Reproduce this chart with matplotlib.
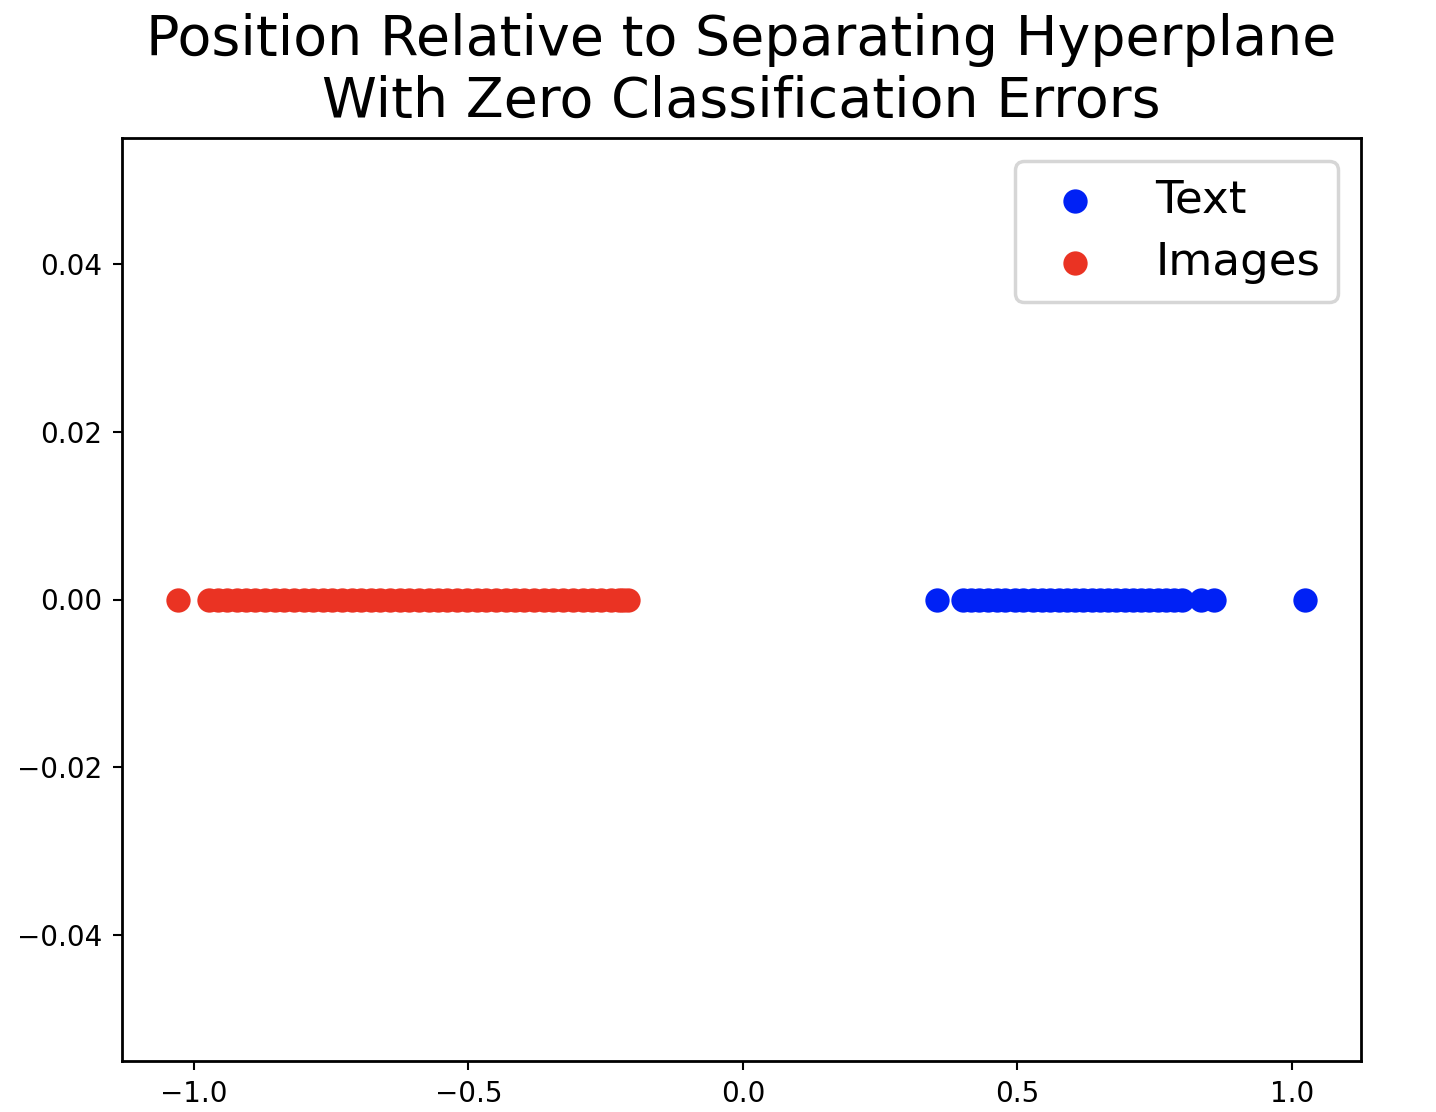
import matplotlib
matplotlib.use('Agg')
import matplotlib.pyplot as plt

# projection onto the separating hyperplane normal
text_pos = [0.353, 0.400, 0.415, 0.430, 0.447, 0.462, 0.478, 0.495, 0.510, 0.528,
            0.545, 0.560, 0.575, 0.590, 0.605, 0.620, 0.635, 0.650, 0.665, 0.680,
            0.695, 0.710, 0.725, 0.740, 0.755, 0.770, 0.785, 0.800, 0.834, 0.858,
            1.023]
image_pos = [-1.028, -0.973, -0.956, -0.940, -0.922, -0.905, -0.888, -0.870, -0.852, -0.835,
             -0.818, -0.800, -0.783, -0.765, -0.748, -0.730, -0.712, -0.695, -0.678, -0.660,
             -0.642, -0.625, -0.608, -0.590, -0.572, -0.555, -0.538, -0.520, -0.502, -0.485,
             -0.468, -0.450, -0.432, -0.415, -0.398, -0.380, -0.362, -0.345, -0.328, -0.310,
             -0.292, -0.275, -0.258, -0.240, -0.225, -0.218, -0.210]
text_y = [0.0] * len(text_pos)
image_y = [0.0] * len(image_pos)

W, H, DPI = 1436, 1112, 250
fig = plt.figure(figsize=(W / DPI, H / DPI), dpi=DPI)
ax = fig.add_axes([122 / W, (H - 1061) / H, (1361 - 122) / W, (1061 - 138) / H])

ax.scatter(text_pos, text_y, color='#0021F5', label='Text')
ax.scatter(image_pos, image_y, color='#EA3323', label='Images')
ax.set_title('Position Relative to Separating Hyperplane\nWith Zero Classification Errors', fontsize=16)
ax.legend(fontsize=13, loc='upper right', labelspacing=0.42, handlelength=1.85, handletextpad=0.85)
ax.tick_params(labelsize=8, length=2.6, width=0.6, pad=3)

fig.savefig('out.png', dpi=DPI)
